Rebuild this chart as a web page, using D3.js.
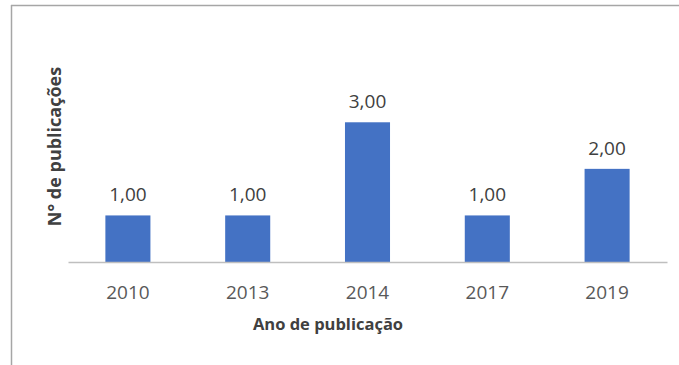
<!DOCTYPE html>
<html>
<head>
<meta charset="utf-8">
<script src="https://cdn.jsdelivr.net/npm/d3@7"></script>
<style>
  html, body { margin: 0; padding: 0; background: #fff; }
  svg { display: block; }
  text { font-family: "Open Sans", "Noto Sans", sans-serif; }
</style>
</head>
<body>
<script>
// Publications per year
const years = ["2010", "2013", "2014", "2017", "2019"];
const counts = [1, 1, 3, 1, 2];
const xTitle = "Ano de publicação";
const yTitle = "N° de publicações";

const W = 679, H = 365;
const svg = d3.select("body").append("svg").attr("width", W).attr("height", H);

// chart frame (top and left edges)
svg.append("line").attr("x1", 11).attr("x2", W).attr("y1", 5.5).attr("y2", 5.5)
  .attr("stroke", "#a6a6a6").attr("stroke-width", 1.5);
svg.append("line").attr("x1", 11.5).attr("x2", 11.5).attr("y1", 5).attr("y2", H)
  .attr("stroke", "#a6a6a6").attr("stroke-width", 1.5);

const x = d3.scaleBand().domain(years).range([68, 667])
  .paddingInner(0.624).paddingOuter(0.312);
const y = d3.scaleLinear().domain([0, 3.5]).range([262, 99]);

const fmt = v => d3.format(".2f")(v).replace(".", ",");

// bars
svg.append("g").selectAll("rect").data(years).join("rect")
  .attr("x", d => x(d))
  .attr("width", x.bandwidth())
  .attr("y", (d, i) => y(counts[i]))
  .attr("height", (d, i) => y(0) - y(counts[i]))
  .attr("fill", "#4472c4");

// value labels
svg.append("g").selectAll("text").data(years).join("text")
  .attr("x", d => x(d) + x.bandwidth() / 2)
  .attr("y", (d, i) => y(counts[i]) - 14)
  .attr("text-anchor", "middle")
  .attr("font-size", 19)
  .attr("fill", "#404040")
  .text((d, i) => fmt(counts[i]));

// category axis
const ax = svg.append("g").attr("transform", `translate(0,${y(0)})`)
  .call(d3.axisBottom(x).tickSize(0).tickSizeOuter(0));
ax.select(".domain").attr("stroke", "#bfbfbf").attr("stroke-width", 1.5);
ax.selectAll(".tick text")
  .attr("y", 37).attr("dy", null)
  .attr("font-size", 19)
  .attr("font-family", "\"Open Sans\", sans-serif")
  .attr("fill", "#595959");

// axis titles
svg.append("text")
  .attr("x", 328).attr("y", 330)
  .attr("text-anchor", "middle")
  .attr("font-size", 16.5).attr("font-weight", "bold")
  .attr("fill", "#404040")
  .text(xTitle);

svg.append("text")
  .attr("transform", "translate(61,146.5) rotate(-90)")
  .attr("text-anchor", "middle")
  .attr("font-size", 18).attr("font-weight", "bold")
  .attr("fill", "#404040")
  .text(yTitle);
</script>
</body>
</html>
